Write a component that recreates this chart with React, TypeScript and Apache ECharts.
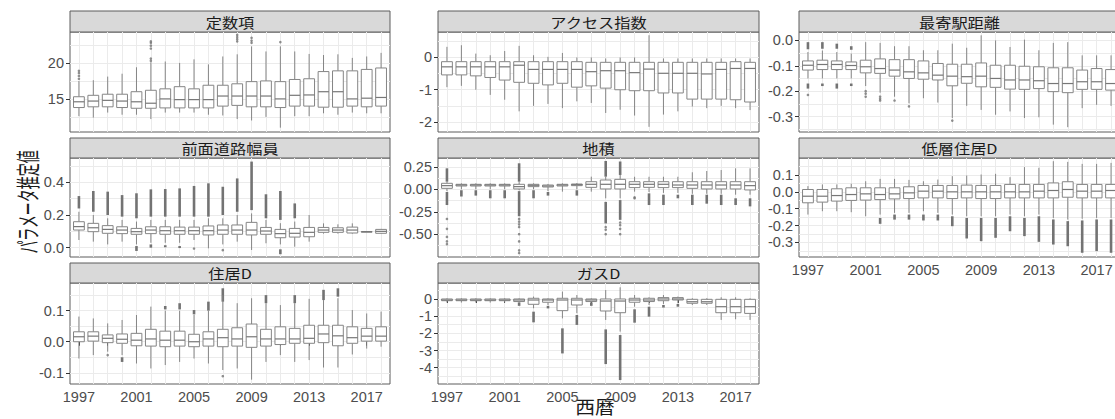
import React, { useEffect, useRef } from "react";
import * as echarts from "echarts";

// ---- categories / ticks -------------------------------------------------
const years = [1997, 1998, 1999, 2000, 2001, 2002, 2003, 2004, 2005, 2006, 2007, 2008, 2009, 2010, 2011, 2012, 2013, 2014, 2015, 2016, 2017, 2018];
const labelYears = [1997, 2001, 2005, 2009, 2013, 2017];
const tickYears = [1997, 1999, 2001, 2003, 2005, 2007, 2009, 2011, 2013, 2015, 2017];

const panelTitles = ["定数項", "アクセス指数", "最寄駅距離", "前面道路幅員", "地積", "低層住居D", "住居D", "ガスD"];

// ---- per-year summaries: [lower whisker, Q1, median, Q3, upper whisker] ----
const constStats = [
  [12.6, 13.8, 14.6, 15.3, 17.5], [12.4, 13.9, 14.7, 15.5, 17.6], [13.1, 13.9, 14.8, 15.65, 18.1], [12.8, 13.8, 14.7, 15.65, 18.5],
  [12.8, 13.7, 14.6, 16.0, 19.4], [12.2, 13.7, 14.4, 16.2, 20.1], [13.1, 13.75, 15.0, 16.4, 20.2], [13.1, 13.75, 14.9, 16.7, 20.0],
  [13.1, 13.75, 14.9, 16.4, 20.5], [12.8, 13.75, 14.9, 16.9, 19.8], [12.7, 14.0, 15.4, 16.9, 20.9], [12.2, 14.1, 15.4, 17.1, 21.2],
  [12.0, 13.9, 15.4, 17.4, 22.3], [12.5, 13.9, 15.4, 17.5, 21.6], [11.0, 13.8, 15.0, 17.4, 22.3], [12.6, 14.0, 15.5, 17.7, 21.6],
  [12.6, 14.0, 15.55, 17.8, 21.25], [13.0, 13.85, 16.0, 18.8, 21.1], [12.8, 13.85, 16.0, 18.9, 21.2], [13.1, 14.0, 15.0, 18.9, 20.7],
  [13.0, 13.9, 15.1, 19.1, 20.9], [13.0, 14.0, 15.2, 19.3, 21.4],
];
const accessStats = [
  [-0.92, -0.54, -0.29, -0.13, 0.33], [-0.88, -0.54, -0.29, -0.13, 0.38], [-1.0, -0.57, -0.29, -0.13, 0.12], [-1.16, -0.62, -0.29, -0.13, 0.07],
  [-1.31, -0.7, -0.29, -0.13, 0.2], [-1.67, -0.77, -0.24, -0.13, 0.36], [-1.5, -0.8, -0.37, -0.13, 0.07], [-1.44, -0.85, -0.37, -0.13, 0.02],
  [-1.57, -0.8, -0.37, -0.13, 0.14], [-1.36, -0.92, -0.37, -0.13, 0.0], [-1.41, -0.88, -0.44, -0.15, 0.0], [-1.72, -0.95, -0.41, -0.15, -0.03],
  [-1.62, -1.0, -0.41, -0.15, 0.0], [-1.8, -1.03, -0.47, -0.15, 0.0], [-2.15, -1.03, -0.36, -0.15, 0.69], [-1.77, -1.1, -0.49, -0.15, -0.03],
  [-1.67, -1.1, -0.49, -0.15, -0.03], [-1.52, -1.29, -0.49, -0.15, -0.03], [-1.57, -1.29, -0.51, -0.15, -0.03], [-1.5, -1.29, -0.37, -0.15, -0.03],
  [-1.57, -1.31, -0.34, -0.13, -0.03], [-1.63, -1.38, -0.34, -0.15, -0.03],
];
const stationStats = [
  [-0.15, -0.117, -0.098, -0.081, -0.046], [-0.15, -0.115, -0.095, -0.078, -0.04], [-0.15, -0.115, -0.095, -0.081, -0.046], [-0.15, -0.115, -0.099, -0.085, -0.052],
  [-0.18, -0.128, -0.104, -0.078, -0.007], [-0.206, -0.13, -0.111, -0.073, -0.01], [-0.222, -0.141, -0.117, -0.076, -0.023], [-0.248, -0.15, -0.124, -0.076, -0.023],
  [-0.228, -0.153, -0.128, -0.081, -0.039], [-0.245, -0.156, -0.137, -0.091, -0.039], [-0.306, -0.179, -0.141, -0.094, -0.013], [-0.258, -0.169, -0.143, -0.094, -0.029],
  [-0.274, -0.183, -0.141, -0.089, 0.02], [-0.293, -0.185, -0.15, -0.098, 0.0], [-0.28, -0.192, -0.156, -0.098, -0.026], [-0.306, -0.193, -0.156, -0.102, 0.003],
  [-0.303, -0.19, -0.159, -0.104, -0.039], [-0.332, -0.202, -0.17, -0.108, -0.01], [-0.342, -0.206, -0.17, -0.108, -0.007], [-0.267, -0.193, -0.163, -0.117, -0.059],
  [-0.254, -0.193, -0.163, -0.111, -0.059], [-0.258, -0.196, -0.17, -0.115, -0.059],
];
const roadStats = [
  [0.047, 0.108, 0.129, 0.159, 0.22], [0.037, 0.098, 0.122, 0.149, 0.2], [0.02, 0.088, 0.112, 0.135, 0.18], [0.037, 0.086, 0.108, 0.128, 0.17],
  [0.02, 0.082, 0.098, 0.118, 0.16], [0.03, 0.086, 0.108, 0.128, 0.17], [0.03, 0.082, 0.104, 0.128, 0.17], [0.03, 0.082, 0.104, 0.126, 0.17],
  [0.047, 0.082, 0.104, 0.126, 0.17], [-0.004, 0.078, 0.104, 0.133, 0.18], [0.02, 0.082, 0.108, 0.139, 0.18], [0.037, 0.082, 0.108, 0.139, 0.2],
  [-0.014, 0.078, 0.108, 0.155, 0.21], [0.027, 0.082, 0.102, 0.124, 0.17], [0.02, 0.061, 0.086, 0.112, 0.15], [0.006, 0.065, 0.088, 0.118, 0.16],
  [0.037, 0.067, 0.094, 0.124, 0.2], [0.086, 0.094, 0.108, 0.124, 0.149], [0.086, 0.094, 0.108, 0.122, 0.143], [0.086, 0.09, 0.108, 0.126, 0.149],
  [0.098, 0.098, 0.098, 0.098, 0.098], [0.085, 0.088, 0.1, 0.112, 0.115],
];
const landStats = [
  [-0.02, 0.011, 0.041, 0.067, 0.08], [0.0, 0.037, 0.048, 0.056, 0.067], [0.0, 0.037, 0.048, 0.056, 0.067], [0.0, 0.037, 0.048, 0.056, 0.067],
  [0.0, 0.037, 0.048, 0.056, 0.067], [-0.01, 0.004, 0.03, 0.056, 0.08], [0.0, 0.03, 0.045, 0.056, 0.067], [-0.02, 0.026, 0.037, 0.048, 0.06],
  [-0.026, 0.037, 0.048, 0.056, 0.067], [0.0, 0.041, 0.052, 0.059, 0.07], [-0.026, 0.022, 0.056, 0.085, 0.141], [-0.1, 0.004, 0.056, 0.104, 0.141],
  [-0.1, 0.004, 0.056, 0.111, 0.16], [-0.026, 0.019, 0.056, 0.085, 0.14], [-0.03, 0.022, 0.056, 0.085, 0.14], [-0.04, 0.019, 0.056, 0.085, 0.14],
  [-0.04, 0.019, 0.048, 0.085, 0.14], [-0.05, 0.011, 0.048, 0.085, 0.19], [-0.05, 0.004, 0.048, 0.085, 0.204], [-0.05, 0.004, 0.048, 0.085, 0.215],
  [-0.06, 0.004, 0.048, 0.085, 0.234], [-0.06, -0.007, 0.041, 0.085, 0.234],
];
const lowRiseStats = [
  [-0.135, -0.065, -0.026, 0.014, 0.034], [-0.115, -0.061, -0.026, 0.014, 0.044], [-0.115, -0.055, -0.022, 0.018, 0.044], [-0.121, -0.051, -0.016, 0.024, 0.048],
  [-0.145, -0.049, -0.012, 0.024, 0.063], [-0.135, -0.046, -0.016, 0.024, 0.077], [-0.125, -0.042, -0.012, 0.024, 0.077], [-0.125, -0.04, -0.006, 0.03, 0.071],
  [-0.115, -0.036, 0.004, 0.038, 0.063], [-0.125, -0.036, 0.004, 0.038, 0.073], [-0.135, -0.04, 0.0, 0.038, 0.093], [-0.145, -0.036, 0.0, 0.04, 0.097],
  [-0.145, -0.04, 0.0, 0.038, 0.103], [-0.145, -0.04, 0.0, 0.038, 0.107], [-0.135, -0.036, 0.0, 0.044, 0.087], [-0.145, -0.036, 0.0, 0.044, 0.147],
  [-0.135, -0.036, 0.004, 0.044, 0.143], [-0.155, -0.036, 0.008, 0.053, 0.182], [-0.165, -0.032, 0.014, 0.06, 0.178], [-0.16, -0.036, 0.004, 0.044, 0.166],
  [-0.155, -0.036, 0.004, 0.044, 0.166], [-0.155, -0.036, 0.008, 0.044, 0.172],
];
const residentialStats = [
  [-0.054, 0.0, 0.016, 0.032, 0.081], [-0.043, 0.002, 0.018, 0.032, 0.075], [-0.032, -0.003, 0.011, 0.022, 0.059], [-0.043, -0.005, 0.008, 0.025, 0.07],
  [-0.07, -0.013, 0.005, 0.027, 0.086], [-0.086, -0.014, 0.009, 0.04, 0.113], [-0.075, -0.016, 0.005, 0.034, 0.1], [-0.065, -0.014, 0.005, 0.034, 0.1],
  [-0.054, -0.016, 0.0, 0.024, 0.086], [-0.07, -0.014, 0.009, 0.032, 0.1], [-0.091, -0.016, 0.013, 0.04, 0.15], [-0.086, -0.014, 0.009, 0.045, 0.124],
  [-0.122, -0.018, 0.016, 0.057, 0.14], [-0.065, -0.014, 0.009, 0.04, 0.124], [-0.043, -0.009, 0.009, 0.048, 0.118], [-0.065, -0.005, 0.009, 0.043, 0.124],
  [-0.059, -0.005, 0.011, 0.053, 0.138], [-0.083, -0.003, 0.025, 0.053, 0.134], [-0.083, -0.013, 0.019, 0.053, 0.14], [-0.041, -0.005, 0.013, 0.048, 0.102],
  [-0.022, 0.002, 0.018, 0.043, 0.091], [-0.016, 0.002, 0.018, 0.048, 0.097],
];
const gasStats = [
  [-0.21, -0.1, -0.06, 0.0, 0.04], [-0.21, -0.1, -0.06, 0.0, 0.04], [-0.21, -0.1, -0.06, 0.0, 0.04], [-0.21, -0.1, -0.06, 0.0, 0.04],
  [-0.21, -0.1, -0.06, 0.0, 0.04], [-0.2, -0.15, -0.06, 0.0, 0.04], [-0.54, -0.31, -0.06, 0.04, 0.14], [-0.35, -0.19, -0.06, 0.0, 0.04],
  [-1.13, -0.68, -0.06, 0.04, 0.43], [-0.83, -0.35, -0.06, 0.04, 0.23], [-0.2, -0.15, -0.06, 0.0, 0.04], [-1.22, -0.7, -0.12, 0.0, 0.52],
  [-1.9, -0.8, -0.12, 0.0, 0.68], [-0.45, -0.19, -0.06, 0.04, 0.23], [-0.35, -0.15, -0.06, 0.04, 0.1], [-0.29, -0.1, 0.0, 0.08, 0.23],
  [-0.25, -0.06, 0.0, 0.08, 0.14], [-0.35, -0.25, -0.16, -0.02, 0.04], [-0.35, -0.25, -0.16, -0.02, 0.04], [-1.22, -0.8, -0.45, -0.02, 0.1],
  [-1.18, -0.8, -0.45, -0.02, 0.1], [-1.22, -0.84, -0.45, -0.02, 0.04],
];

// ---- outliers: single points [year, value] and dense runs [year, low, high] ----
const constOutliers = [[1997, 17.8], [1997, 18.2], [1997, 18.6], [1997, 18.9], [2002, 20.3], [2002, 20.6], [2002, 22.0], [2002, 22.4], [2002, 22.8], [2002, 23.0], [2008, 23.0], [2008, 23.3], [2008, 23.6], [2008, 23.9], [2009, 22.8], [2009, 23.1], [2009, 23.5], [2011, 22.9]];
const constRuns: number[][] = [];
const accessOutliers: number[][] = [];
const accessRuns: number[][] = [];
const stationOutliers = [[1997, -0.215], [2001, -0.2], [2001, -0.21], [2001, -0.222], [2002, -0.222], [2002, -0.23], [2002, -0.237], [2003, -0.237], [2004, -0.26], [2007, -0.316]];
const stationRuns = [[1997, -0.035, -0.007], [1998, -0.033, -0.007], [1999, -0.033, -0.013], [2000, -0.037, -0.023], [1997, -0.19, -0.17], [1998, -0.18, -0.17], [1999, -0.19, -0.17], [2000, -0.18, -0.17]];
const roadOutliers = [[2005, -0.005], [2007, -0.015]];
const roadRuns = [
  [1997, 0.24, 0.316], [1998, 0.22, 0.347], [1999, 0.2, 0.343], [2000, 0.19, 0.322], [2001, 0.18, 0.333], [2002, 0.19, 0.357], [2003, 0.19, 0.359], [2004, 0.19, 0.363],
  [2005, 0.19, 0.378], [2006, 0.19, 0.394], [2007, 0.2, 0.373], [2008, 0.22, 0.424], [2009, 0.23, 0.527], [2010, 0.18, 0.327], [2011, 0.17, 0.347], [2012, 0.18, 0.271],
  [2001, -0.02, 0.01], [2002, 0.0, 0.02], [2003, 0.005, 0.015], [2004, 0.0, 0.01], [2011, -0.04, -0.01],
];
const landOutliers = [[1997, -0.33], [1997, -0.44], [1997, -0.53], [1997, -0.58], [1997, -0.61], [2002, -0.33], [2002, -0.36], [2002, -0.39], [2002, -0.42], [2002, -0.5], [2002, -0.58], [2002, -0.68], [2002, -0.71], [2008, -0.42], [2008, -0.45], [2008, -0.5], [2009, -0.37], [2009, -0.4], [2009, -0.44], [2009, -0.5], [2010, -0.09], [2010, -0.1]];
const landRuns = [
  [1997, 0.085, 0.234], [2002, 0.085, 0.29], [2008, 0.141, 0.316], [2009, 0.16, 0.31],
  [1997, -0.175, -0.03], [1998, -0.08, -0.01], [1999, -0.07, -0.01], [2000, -0.1, -0.01], [2001, -0.1, -0.01], [2002, -0.3, -0.02], [2003, -0.1, -0.01], [2004, -0.07, -0.03],
  [2006, -0.07, -0.01], [2008, -0.38, -0.14], [2009, -0.34, -0.12], [2011, -0.175, -0.045], [2012, -0.175, -0.06], [2013, -0.1, -0.06], [2014, -0.175, -0.06], [2015, -0.16, -0.06],
  [2016, -0.175, -0.06], [2017, -0.175, -0.1], [2018, -0.19, -0.1],
];
const lowRiseOutliers: number[][] = [];
const lowRiseRuns = [
  [2002, -0.19, -0.155], [2003, -0.165, -0.135], [2004, -0.165, -0.135], [2005, -0.17, -0.135], [2006, -0.17, -0.135], [2007, -0.204, -0.145], [2008, -0.277, -0.155], [2009, -0.293, -0.155],
  [2010, -0.273, -0.155], [2011, -0.234, -0.145], [2012, -0.263, -0.155], [2013, -0.297, -0.145], [2014, -0.313, -0.164], [2015, -0.323, -0.174], [2016, -0.362, -0.17], [2017, -0.352, -0.164], [2018, -0.362, -0.164],
];
const residentialOutliers = [[1999, -0.043], [2007, -0.111]];
const residentialRuns = [[2003, 0.104, 0.115], [2004, 0.104, 0.124], [2005, 0.088, 0.102], [2006, 0.1, 0.129], [2007, 0.129, 0.172], [2010, 0.124, 0.15], [2012, 0.124, 0.15], [2014, 0.134, 0.167], [2015, 0.145, 0.172], [2000, -0.065, -0.05]];
const gasOutliers: number[][] = [];
const gasRuns = [[2002, -0.4, -0.2], [2003, -1.36, -0.74], [2004, -0.55, -0.4], [2005, -3.17, -1.71], [2006, -1.51, -0.93], [2007, -0.4, -0.2], [2008, -3.79, -1.77], [2009, -4.72, -2.1], [2010, -1.38, -0.6], [2011, -1.03, -0.45], [2012, -0.5, -0.35], [2013, -0.45, -0.29]];

// ---- y scales: [min, max], labelled ticks, grid lines, decimals ----
const yRanges = [[10.4, 24.3], [-2.31, 0.79], [-0.361, 0.033], [-0.057, 0.549], [-0.754, 0.349], [-0.387, 0.201], [-0.136, 0.189], [-4.95, 0.93]];
const yTicks = [[15, 20], [-2, -1, 0], [-0.3, -0.2, -0.1, 0], [0, 0.2, 0.4], [-0.5, -0.25, 0, 0.25], [-0.3, -0.2, -0.1, 0, 0.1], [-0.1, 0, 0.1], [-4, -3, -2, -1, 0]];
const yGrid = [
  [12.5, 15, 17.5, 20, 22.5], [-2, -1.5, -1, -0.5, 0, 0.5], [-0.35, -0.3, -0.25, -0.2, -0.15, -0.1, -0.05, 0], [0, 0.1, 0.2, 0.3, 0.4, 0.5],
  [-0.625, -0.5, -0.375, -0.25, -0.125, 0, 0.125, 0.25], [-0.35, -0.3, -0.25, -0.2, -0.15, -0.1, -0.05, 0, 0.05, 0.1, 0.15], [-0.1, -0.05, 0, 0.05, 0.1, 0.15], [-4.5, -4, -3.5, -3, -2.5, -2, -1.5, -1, -0.5, 0, 0.5],
];
const yDecimals = [0, 0, 1, 1, 2, 1, 1, 0];

const allStats = [constStats, accessStats, stationStats, roadStats, landStats, lowRiseStats, residentialStats, gasStats];
const allOutliers = [constOutliers, accessOutliers, stationOutliers, roadOutliers, landOutliers, lowRiseOutliers, residentialOutliers, gasOutliers];
const allRuns = [constRuns, accessRuns, stationRuns, roadRuns, landRuns, lowRiseRuns, residentialRuns, gasRuns];

// ---- facet layout ----
const COL_LEFT = [70, 438, 799];
const COL_WIDTH = [320, 321, 321];
const ROW_TOP = [32, 158, 283];
const ROW_HEIGHT = [100, 99, 101];
const STRIP_TOP = [11, 138, 263];
const panelPos = [[0, 0], [1, 0], [2, 0], [0, 1], [1, 1], [2, 1], [0, 2], [1, 2]];
const xLabelled = [false, false, false, false, false, true, true, true];

const BOX_COLOR = "#858585";
const OUT_COLOR = "#737373";
const GRID_COLOR = "#ebebeb";
const BORDER = "#5c5c5c";
const TICK_FONT = "Liberation Sans";
const CJK_FONT = "Noto Sans CJK JP";

function renderBox(_params: any, api: any) {
  const x = api.value(0);
  const lo = api.coord([x, api.value(1)]);
  const q1 = api.coord([x, api.value(2)]);
  const md = api.coord([x, api.value(3)]);
  const q3 = api.coord([x, api.value(4)]);
  const hi = api.coord([x, api.value(5)]);
  const w = api.size([0.75, 0])[0];
  const cx = lo[0];
  const l = cx - w / 2;
  const line = { stroke: BOX_COLOR, lineWidth: 1 };
  return {
    type: "group",
    children: [
      { type: "line", shape: { x1: cx, y1: hi[1], x2: cx, y2: q3[1] }, style: line },
      { type: "line", shape: { x1: cx, y1: q1[1], x2: cx, y2: lo[1] }, style: line },
      { type: "rect", shape: { x: l, y: q3[1], width: w, height: Math.max(q1[1] - q3[1], 0.5) }, style: { fill: "#ffffff", stroke: BOX_COLOR, lineWidth: 1 } },
      { type: "line", shape: { x1: l, y1: md[1], x2: l + w, y2: md[1] }, style: { stroke: "#777777", lineWidth: 1.2 } },
    ],
  };
}

function renderRun(_params: any, api: any) {
  const x = api.value(0);
  const a = api.coord([x, api.value(1)]);
  const b = api.coord([x, api.value(2)]);
  return {
    type: "rect",
    shape: { x: a[0] - 1.3, y: b[1], width: 2.6, height: Math.max(a[1] - b[1], 2) },
    style: { fill: OUT_COLOR },
  };
}

function buildOption() {
  const grid: any[] = [];
  const xAxis: any[] = [];
  const yAxis: any[] = [];
  const series: any[] = [];
  const graphic: any[] = [];

  panelPos.forEach(([c, r], i) => {
    const left = COL_LEFT[c];
    const width = COL_WIDTH[c];
    const top = ROW_TOP[r];
    const height = ROW_HEIGHT[r];
    grid.push({
      left, top, width, height,
      show: true, backgroundColor: "#ffffff", borderColor: BORDER, borderWidth: 1,
      containLabel: false, outerBoundsMode: "none",
    });
    const [ymin, ymax] = yRanges[i];
    const xMin = years[0] - 0.62;
    const xMax = years[years.length - 1] + 0.62;
    const showX = xLabelled[i];
    xAxis.push({
      type: "value", gridIndex: i, min: xMin, max: xMax,
      axisLine: { show: false }, splitLine: { show: false },
      axisTick: { show: showX, customValues: tickYears, length: 4, lineStyle: { color: "#333333" } },
      axisLabel: {
        show: showX, customValues: labelYears, margin: 5,
        color: "#4d4d4d", fontSize: 14.5, fontFamily: TICK_FONT,
        formatter: (v: number) => String(Math.round(v)),
      },
    });
    xAxis.push({
      type: "value", gridIndex: i, min: xMin, max: xMax,
      axisLine: { show: false }, axisLabel: { show: false },
      axisTick: { show: false, customValues: years },
      splitLine: { show: true, lineStyle: { color: GRID_COLOR, width: 1 } },
    });
    const dec = yDecimals[i];
    yAxis.push({
      type: "value", gridIndex: i, min: ymin, max: ymax,
      axisLine: { show: false }, splitLine: { show: false },
      axisTick: { show: true, customValues: yTicks[i], length: 4, lineStyle: { color: "#333333" } },
      axisLabel: {
        show: true, customValues: yTicks[i], margin: 6,
        color: "#4d4d4d", fontSize: 14.5, fontFamily: TICK_FONT,
        formatter: (v: number) => (Math.abs(v) < 1e-9 ? 0 : v).toFixed(dec),
      },
    });
    yAxis.push({
      type: "value", gridIndex: i, min: ymin, max: ymax,
      axisLine: { show: false }, axisLabel: { show: false },
      axisTick: { show: false, customValues: yGrid[i] },
      splitLine: { show: true, lineStyle: { color: GRID_COLOR, width: 1 } },
    });

    series.push({
      type: "custom", xAxisIndex: 2 * i, yAxisIndex: 2 * i, z: 3, clip: true, silent: true,
      renderItem: renderRun,
      data: allRuns[i],
    });
    series.push({
      type: "scatter", xAxisIndex: 2 * i, yAxisIndex: 2 * i, z: 3, silent: true,
      symbol: "circle", symbolSize: 2.6,
      itemStyle: { color: OUT_COLOR },
      data: allOutliers[i],
    });
    series.push({
      type: "custom", xAxisIndex: 2 * i, yAxisIndex: 2 * i, z: 4, clip: true, silent: true,
      renderItem: renderBox,
      data: years.map((y, k) => [y, ...allStats[i][k]]),
    });

    // facet strip
    const stripTop = STRIP_TOP[r];
    graphic.push({
      type: "rect", silent: true,
      shape: { x: left, y: stripTop, width, height: top - stripTop },
      style: { fill: "#d9d9d9", stroke: BORDER, lineWidth: 1 },
    });
    graphic.push({
      type: "text", silent: true,
      x: left + width / 2, y: stripTop + (top - stripTop) / 2 + 0.5, scaleX: 1.2,
      style: {
        text: panelTitles[i], fill: "#1a1a1a",
        font: `13.5px "${CJK_FONT}"`,
        align: "center", verticalAlign: "middle",
        textAlign: "center", textVerticalAlign: "middle",
      },
    });
  });

  // axis titles
  graphic.push({
    type: "text", silent: true,
    x: 595, y: 406, scaleX: 1.1,
    style: {
      text: "西暦", fill: "#1a1a1a", font: `18px "${CJK_FONT}"`,
      align: "center", verticalAlign: "middle", textAlign: "center", textVerticalAlign: "middle",
    },
  });
  graphic.push({
    type: "text", silent: true,
    x: 27, y: 202, rotation: Math.PI / 2, scaleX: 0.54,
    style: {
      text: "パラメータ推定値", fill: "#1a1a1a", font: `24px "${CJK_FONT}"`,
      align: "center", verticalAlign: "middle", textAlign: "center", textVerticalAlign: "middle",
    },
  });

  return {
    animation: false,
    backgroundColor: "#ffffff",
    grid, xAxis, yAxis, series, graphic,
  };
}

export default function App() {
  const ref = useRef<HTMLDivElement>(null);
  useEffect(() => {
    if (!ref.current) return;
    const chart = echarts.init(ref.current, undefined, { renderer: "svg" });
    chart.setOption(buildOption() as any);
    return () => chart.dispose();
  }, []);
  return (
    <div
      ref={ref}
      style={{ position: "fixed", left: 0, top: 0, width: 1115, height: 419, background: "#ffffff" }}
    />
  );
}
